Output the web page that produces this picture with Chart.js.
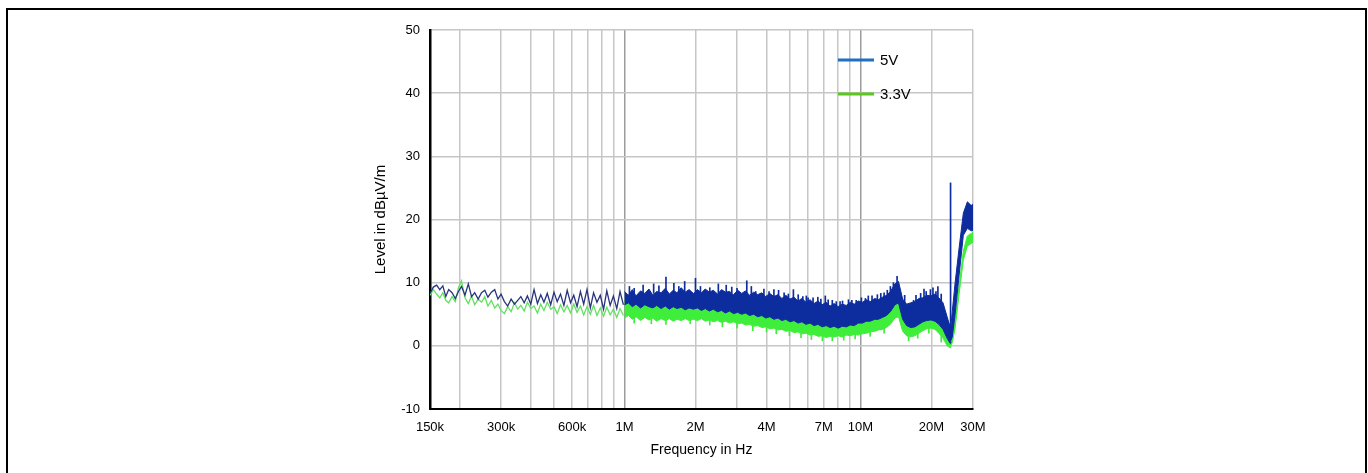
<!DOCTYPE html>
<html>
<head>
<meta charset="utf-8">
<title>Radiated emissions 5V / 3.3V</title>
<script src="https://cdn.jsdelivr.net/npm/chart.js@4.4.1/dist/chart.umd.min.js"></script>
<style>
  html, body { margin: 0; padding: 0; background: #fff; overflow: hidden; }
  #frame { position: absolute; left: 6px; top: 8px; width: 1357px; height: 480px; border: 2px solid #000; }
  #chart { position: absolute; left: 0; top: 0; }
</style>
</head>
<body>
<div id="frame"></div>
<canvas id="chart" width="1368" height="473"></canvas>
<script>
// low band trace, frequency in kHz
const freqLow = [150, 155, 160, 165, 170, 175, 180, 186, 192, 198, 204, 211, 218, 225, 232, 240, 248, 256, 264, 273,
  282, 291, 300, 310, 320, 331, 342, 353, 364, 376, 388, 401, 414, 428, 442, 456, 471, 487, 503, 519,
  536, 554, 572, 591, 610, 630, 651, 672, 694, 717, 740, 765, 790, 816, 842, 870, 898, 928, 958, 990];
const v5Low = [8.3, 9.3, 9.6, 8.9, 9.5, 7.8, 8.9, 8.4, 7.5, 8.6, 9.4, 8.0, 9.8, 7.8, 8.4, 7.4, 8.4, 8.8, 7.7, 8.5,
  8.9, 7.4, 8.2, 7.0, 6.3, 7.4, 6.6, 7.2, 7.8, 6.8, 7.9, 6.6, 8.9, 6.7, 8.1, 6.9, 8.3, 6.5, 8.5, 7.0,
  8.2, 6.4, 8.8, 6.8, 8.0, 6.2, 8.6, 6.6, 8.9, 6.0, 8.4, 6.9, 8.0, 5.8, 8.7, 6.4, 7.9, 5.9, 8.6, 6.5];
const v33Low = [8.0, 8.9, 8.2, 7.6, 8.4, 7.2, 6.8, 7.8, 7.0, 9.2, 10.3, 7.6, 6.7, 7.9, 6.5, 7.4, 6.9, 7.8, 6.3, 7.2,
  6.0, 6.6, 5.6, 5.1, 6.2, 5.4, 6.8, 5.8, 6.4, 5.5, 6.9, 5.9, 6.3, 5.2, 6.6, 5.6, 6.9, 5.8, 6.2, 5.1,
  6.5, 5.4, 6.4, 5.2, 6.6, 5.3, 6.3, 4.9, 6.2, 5.0, 6.4, 4.8, 6.0, 4.7, 6.1, 4.9, 5.8, 4.5, 5.9, 4.8];

// dense band above 1 MHz, frequency in MHz, upper and lower edge of each trace
const freqBand = [1.0, 1.04, 1.08, 1.12, 1.17, 1.22, 1.27, 1.32, 1.37, 1.43, 1.49, 1.55, 1.61, 1.67, 1.74, 1.81, 1.88, 1.96,
  2.04, 2.12, 2.2, 2.29, 2.38, 2.48, 2.58, 2.68, 2.79, 2.9, 3.02, 3.14, 3.26, 3.39, 3.53, 3.67, 3.82, 3.97,
  4.13, 4.3, 4.47, 4.65, 4.83, 5.03, 5.23, 5.44, 5.65, 5.88, 6.12, 6.36, 6.62, 6.88, 7.16, 7.44, 7.74, 8.05,
  8.37, 8.71, 9.06, 9.42, 9.8, 10.2, 10.6, 11.0, 11.5, 11.9, 12.4, 12.9, 13.4, 14.0, 14.5, 15.1, 15.7, 16.3,
  17.0, 17.7, 18.4, 19.1, 19.9, 20.7, 21.5, 22.4, 23.3, 24.0, 24.1, 24.2, 24.5, 25.2, 26.2, 27.3, 28.4, 29.5, 30];
const v5Hi = [8.6, 8.0, 8.9, 7.9, 8.7, 8.3, 9.0, 8.0, 8.6, 8.4, 9.1, 8.2, 8.8, 8.4, 9.2, 8.5, 8.9, 8.3,
  8.9, 8.4, 9.0, 8.5, 8.8, 8.2, 8.9, 8.5, 8.6, 8.1, 8.8, 8.3, 8.7, 8.0, 8.5, 8.1, 8.4, 7.8,
  8.3, 7.8, 8.1, 7.5, 8.0, 7.4, 7.7, 7.1, 7.5, 6.9, 7.3, 6.7, 7.1, 6.5, 6.9, 6.3, 6.7, 6.2,
  6.6, 6.4, 6.9, 6.6, 7.1, 6.9, 7.3, 7.0, 7.5, 7.3, 7.7, 8.0, 8.6, 9.8, 10.2, 7.4, 6.6, 6.8,
  7.0, 7.5, 7.6, 8.0, 7.9, 8.2, 7.6, 6.8, 4.6, 3.0, 2.9, 3.0, 5.4, 10.0, 15.5, 21.0, 22.8, 22.2, 22.5];
const v5Lo = [6.5, 6.8, 6.2, 6.6, 6.0, 6.5, 6.2, 6.0, 6.4, 5.9, 6.3, 5.8, 6.2, 5.9, 6.1, 5.7, 6.0, 5.8,
  6.0, 5.6, 5.9, 5.5, 5.8, 5.4, 5.6, 5.2, 5.5, 5.1, 5.3, 5.0, 5.2, 4.8, 5.0, 4.6, 4.8, 4.4,
  4.6, 4.2, 4.4, 4.0, 4.2, 3.8, 4.0, 3.6, 3.8, 3.4, 3.6, 3.2, 3.4, 3.0, 3.2, 2.9, 3.1, 2.8,
  3.1, 3.0, 3.3, 3.2, 3.6, 3.6, 3.9, 3.9, 4.2, 4.2, 4.5, 4.8, 5.4, 6.5, 6.8, 4.2, 3.2, 2.9,
  3.0, 3.4, 3.8, 4.0, 4.1, 3.9, 3.4, 2.6, 1.2, 0.4, 0.5, 0.8, 1.4, 5.0, 11.2, 17.5, 18.6, 18.2, 18.3];
const v33Hi = [7.3, 7.6, 7.0, 7.4, 6.8, 7.3, 7.0, 6.8, 7.2, 6.7, 7.1, 6.6, 7.0, 6.7, 6.9, 6.5, 6.8, 6.6,
  6.8, 6.4, 6.7, 6.3, 6.6, 6.2, 6.4, 6.0, 6.3, 5.9, 6.1, 5.8, 6.0, 5.6, 5.8, 5.4, 5.6, 5.2,
  5.4, 5.0, 5.2, 4.8, 5.0, 4.6, 4.8, 4.4, 4.6, 4.2, 4.4, 4.0, 4.2, 3.8, 4.0, 3.7, 3.9, 3.6,
  3.9, 3.8, 4.1, 4.0, 4.4, 4.4, 4.7, 4.7, 5.0, 5.0, 5.3, 5.6, 6.2, 7.3, 7.6, 5.0, 4.0, 3.7,
  3.8, 4.2, 4.6, 4.8, 4.9, 4.7, 4.2, 3.4, 2.0, 1.2, 1.3, 1.6, 2.2, 4.0, 9.6, 15.0, 17.4, 17.8, 18.0];
const v33Lo = [4.4, 4.8, 4.2, 4.6, 4.0, 4.5, 4.1, 4.4, 3.9, 4.3, 4.0, 4.3, 3.9, 4.2, 4.0, 4.3, 4.0, 4.2,
  4.0, 4.3, 3.9, 4.1, 3.8, 4.0, 3.7, 3.9, 3.6, 3.8, 3.5, 3.6, 3.3, 3.4, 3.1, 3.2, 2.9, 3.0,
  2.7, 2.8, 2.5, 2.6, 2.3, 2.4, 2.1, 2.2, 1.9, 2.0, 1.7, 1.8, 1.5, 1.6, 1.3, 1.5, 1.4, 1.6,
  1.4, 1.7, 1.6, 1.8, 1.7, 1.9, 2.0, 2.2, 2.3, 2.5, 2.6, 2.9, 3.4, 4.4, 4.6, 2.3, 1.6, 1.4,
  1.6, 2.0, 2.4, 2.7, 2.8, 2.6, 2.0, 1.2, 0.0, -0.3, -0.2, 0.0, 0.5, 2.8, 8.2, 13.6, 15.8, 16.2, 16.4];

// narrow peaks sticking out of the bands (MHz, dB from .. to)
const spike5F = [1.05, 1.1, 1.2, 1.33, 1.4, 1.5, 1.62, 1.7, 1.8, 2.0, 2.1, 2.3, 2.5, 2.7, 2.85, 3.0, 3.3, 3.45,
  3.6, 3.9, 4.1, 4.3, 4.5, 4.75, 4.95, 5.2, 5.45, 5.7, 5.9, 6.0, 6.3, 6.6, 6.8, 7.1, 7.3, 7.6, 7.9, 8.2,
  8.4, 8.9, 9.2, 9.6, 10.1, 10.5, 10.8, 11.2, 11.8, 12.2, 12.6, 13.0, 13.4, 13.8, 14.3, 15.4, 16.8, 17.2,
  18.0, 18.6, 19.0, 19.8, 20.3, 20.9, 21.3, 22.0, 24.1];
const spike5Top = [9.4, 9.1, 9.6, 9.8, 9.5, 10.9, 9.9, 9.4, 10.2, 10.7, 9.4, 9.2, 9.8, 9.6, 9.3, 9.1, 10.3, 9.4,
  8.6, 9.0, 8.6, 8.9, 8.8, 8.4, 8.2, 8.9, 8.1, 7.8, 7.9, 7.6, 7.6, 7.7, 7.4, 7.9, 7.3, 7.2, 7.0, 7.0,
  7.1, 7.3, 7.2, 7.2, 7.6, 7.5, 7.9, 7.9, 8.1, 8.3, 8.4, 8.8, 9.4, 10.0, 11.0, 8.0, 7.2, 8.0,
  8.3, 9.0, 8.6, 8.9, 9.2, 8.6, 9.4, 8.2, 25.8];
const spike5Base = [8.0, 8.1, 8.2, 8.3, 8.3, 8.4, 8.4, 8.4, 8.5, 8.6, 8.5, 8.4, 8.4, 8.4, 8.4, 8.4, 8.3, 8.2,
  8.1, 8.0, 7.9, 7.8, 7.6, 7.5, 7.3, 7.2, 7.0, 7.0, 6.9, 6.8, 6.7, 6.6, 6.5, 6.4, 6.4, 6.3, 6.2, 6.2,
  6.2, 6.3, 6.4, 6.5, 6.7, 6.8, 6.9, 7.0, 7.2, 7.4, 7.6, 7.9, 8.5, 9.0, 9.5, 6.8, 6.6, 6.9,
  7.4, 7.6, 7.6, 7.8, 7.9, 7.9, 7.8, 7.0, 2.0];
const spike33F = [1.1, 1.3, 1.5, 1.9, 2.3, 2.6, 3.0, 3.5, 4.0, 4.4, 5.0, 5.6, 6.2, 6.9, 7.6, 8.5, 9.5, 11.0, 12.6,
  16.0, 17.5, 19.5, 22.0];
const spike33Bottom = [3.6, 3.5, 3.4, 3.5, 3.3, 3.0, 2.8, 2.4, 2.2, 1.9, 1.6, 1.3, 1.0, 0.8, 0.8, 0.9, 1.1, 1.5, 2.0,
  0.8, 1.2, 2.0, 0.6];
const spike33Base = [4.6, 4.5, 4.3, 4.3, 4.3, 4.0, 3.8, 3.4, 3.2, 2.9, 2.6, 2.3, 2.0, 1.8, 1.8, 1.9, 2.1, 2.5, 3.0,
  1.8, 2.2, 3.0, 1.6];

// axis ticks
const gridFreqs = [150e3, 200e3, 300e3, 400e3, 500e3, 600e3, 700e3, 800e3, 900e3,
  1e6, 2e6, 3e6, 4e6, 5e6, 6e6, 7e6, 8e6, 9e6, 10e6, 20e6, 30e6];
const freqLabels = { 150e3: '150k', 300e3: '300k', 600e3: '600k', 1e6: '1M', 2e6: '2M',
  4e6: '4M', 7e6: '7M', 10e6: '10M', 20e6: '20M', 30e6: '30M' };
const legendItems = [
  { label: '5V', color: '#1f6fc2' },
  { label: '3.3V', color: '#5cc81e' }
];

const BLUE = '#0d2c9e';
const GREEN = '#3fee3a';
const FONT = "'Liberation Sans', Arial, sans-serif";

const pts = (xs, ys, k) => xs.map((f, i) => ({ x: f * k, y: ys[i] }));
const bars = (xs, lo, hi) => xs.map((f, i) => ({ x: f * 1e6, y: [lo[i], hi[i]] }));

// legend drawn inside the plot, top right
const insideLegend = {
  id: 'insideLegend',
  afterDraw(chart) {
    const { ctx, chartArea } = chart;
    ctx.save();
    ctx.font = '15px ' + FONT;
    ctx.textBaseline = 'middle';
    legendItems.forEach((item, i) => {
      const y = chartArea.top + 30 + i * 34;
      const x = chartArea.left + 408;
      ctx.strokeStyle = item.color;
      ctx.lineWidth = 3;
      ctx.beginPath();
      ctx.moveTo(x, y);
      ctx.lineTo(x + 36, y);
      ctx.stroke();
      ctx.fillStyle = '#000';
      ctx.fillText(item.label, x + 42, y + 1);
    });
    ctx.restore();
  }
};

const spikeStyle = { type: 'bar', barThickness: 1, grouped: false, borderWidth: 0 };

new Chart(document.getElementById('chart'), {
  type: 'line',
  data: {
    datasets: [
      { label: '5V', data: pts(freqLow, v5Low, 1e3), borderColor: '#28347e', borderWidth: 1.3 },
      { ...spikeStyle, label: '5V peaks', data: bars(spike5F, spike5Base, spike5Top), backgroundColor: BLUE },
      { label: '5V max', data: pts(freqBand, v5Hi, 1e6), borderColor: BLUE, borderWidth: 1 },
      { label: '5V min', data: pts(freqBand, v5Lo, 1e6), borderColor: BLUE, borderWidth: 1,
        backgroundColor: BLUE, fill: '-1' },
      { label: '3.3V', data: pts(freqLow, v33Low, 1e3), borderColor: '#62e060', borderWidth: 1.3 },
      { ...spikeStyle, label: '3.3V dips', data: bars(spike33F, spike33Bottom, spike33Base), backgroundColor: GREEN },
      { label: '3.3V max', data: pts(freqBand, v33Hi, 1e6), borderColor: GREEN, borderWidth: 1 },
      { label: '3.3V min', data: pts(freqBand, v33Lo, 1e6), borderColor: GREEN, borderWidth: 1,
        backgroundColor: GREEN, fill: '-1' }
    ]
  },
  options: {
    responsive: false,
    animation: false,
    events: [],
    elements: { point: { radius: 0 }, line: { tension: 0 } },
    layout: { padding: { left: 370, right: 395, top: 30, bottom: 10 } },
    plugins: {
      legend: { display: false },
      tooltip: { enabled: false }
    },
    scales: {
      x: {
        type: 'logarithmic',
        min: 150e3,
        max: 30e6,
        offset: false,
        afterBuildTicks: (scale) => { scale.ticks = gridFreqs.map(v => ({ value: v })); },
        afterFit: (scale) => { scale.height = 54; },
        grid: {
          offset: false,
          drawTicks: false,
          lineWidth: 1.5,
          color: (c) => {
            const v = c.tick && c.tick.value;
            if (v === 150e3) return 'rgba(0,0,0,0)';
            return (v === 1e6 || v === 10e6) ? '#9c9c9c' : '#c6c6c6';
          }
        },
        border: { color: '#000', width: 2 },
        ticks: {
          autoSkip: false,
          maxRotation: 0,
          minRotation: 0,
          padding: 11,
          color: '#000',
          font: { family: FONT, size: 13 },
          callback: (v) => freqLabels[v] || ''
        },
        title: {
          display: true,
          text: 'Frequency in Hz',
          color: '#000',
          font: { family: FONT, size: 14 },
          padding: { top: 0, bottom: 4 }
        }
      },
      y: {
        min: -10,
        max: 50,
        beginAtZero: false,
        afterFit: (scale) => { scale.width = 60; },
        grid: {
          drawTicks: false,
          lineWidth: 1.5,
          color: (c) => (c.tick && c.tick.value === -10) ? 'rgba(0,0,0,0)' : '#c6c6c6'
        },
        border: { color: '#000', width: 2.5 },
        ticks: {
          stepSize: 10,
          padding: 10,
          color: '#000',
          font: { family: FONT, size: 13 },
          callback: (v) => String(v)
        },
        title: {
          display: true,
          text: 'Level in dBµV/m',
          color: '#000',
          font: { family: FONT, size: 15 },
          padding: { top: 2, bottom: 4 }
        }
      }
    }
  },
  plugins: [insideLegend]
});
</script>
</body>
</html>
